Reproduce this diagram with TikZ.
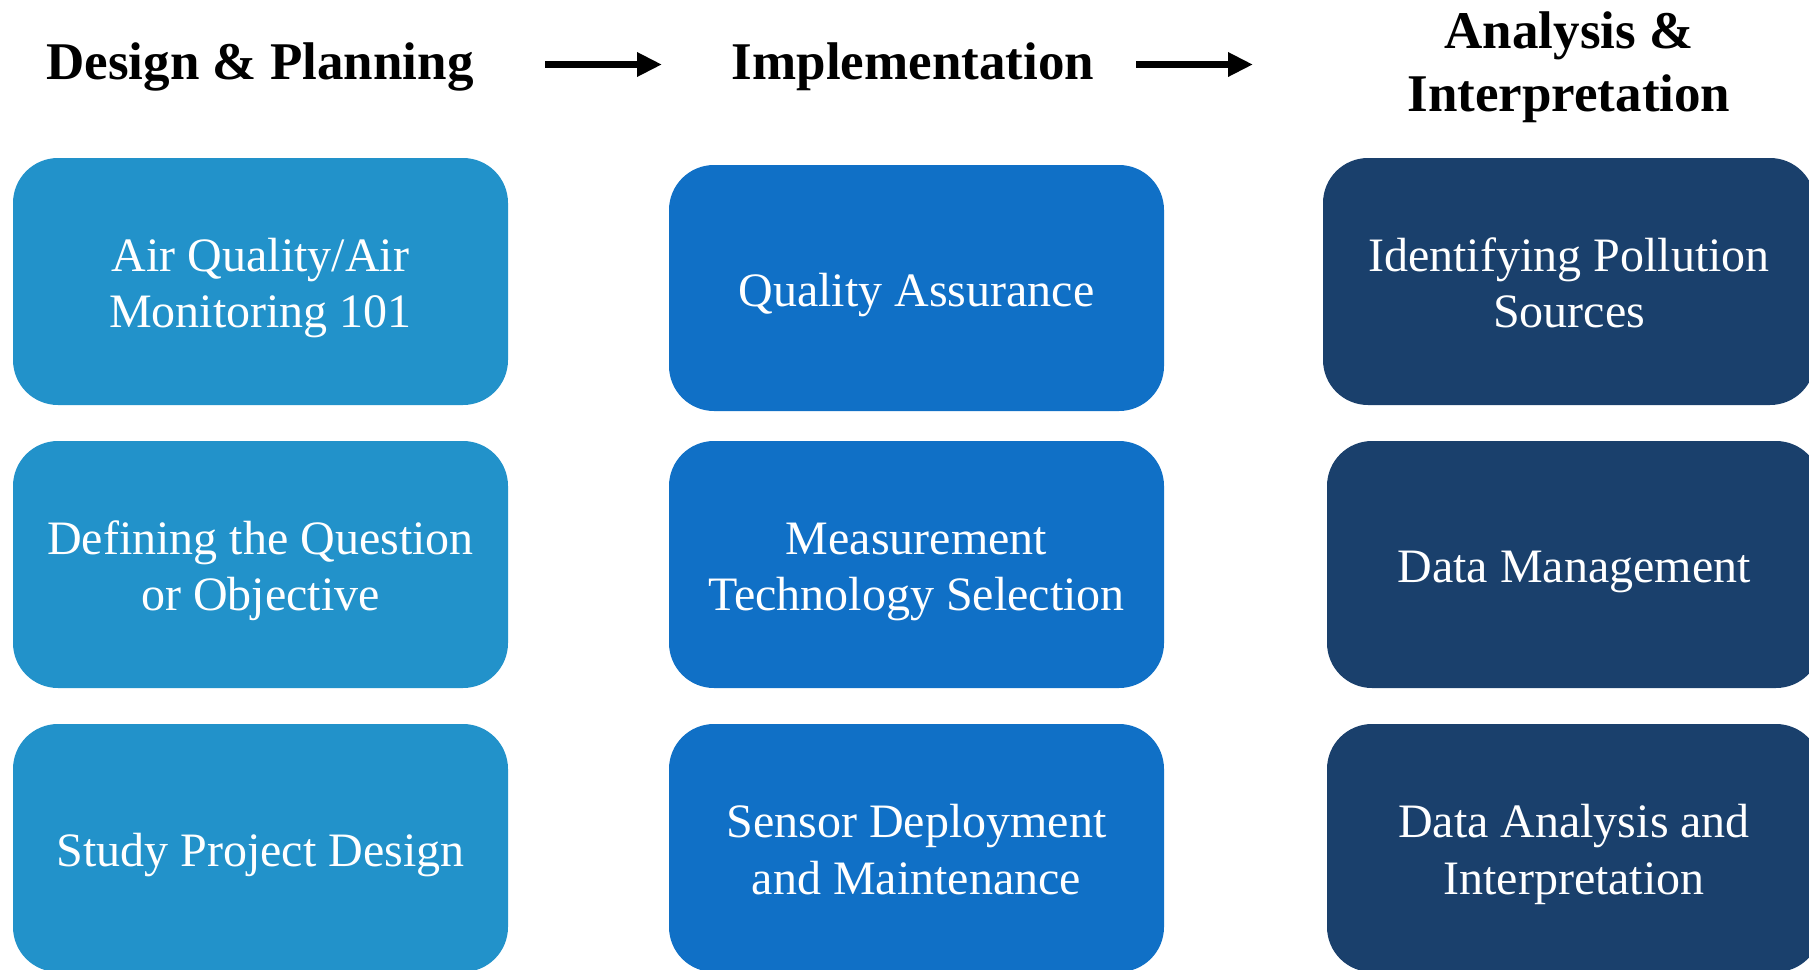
\documentclass[tikz,border=0pt]{standalone}
\usepackage{fontspec}
\setmainfont{Liberation Serif}
\usetikzlibrary{arrows.meta}

\definecolor{planblue}{RGB}{34,146,202}
\definecolor{implblue}{RGB}{16,112,198}
\definecolor{analblue}{RGB}{26,64,108}

% puntales para centrar el texto dentro de las cajas
\newcommand{\boxlift}{\rule{0pt}{47pt}}
\newcommand{\boxsink}{\rule[-11pt]{0pt}{11pt}}

\tikzset{
  stagebox/.style={
    fill=#1,
    draw=none,
    rounded corners=45pt,
    text=white,
    align=center,
    inner sep=0pt,
    font=\fontsize{48}{56.5}\selectfont
  },
  header/.style={
    align=center,
    inner sep=0pt,
    font=\fontsize{53}{63}\selectfont\bfseries
  },
  flow/.style={
    line width=7.5pt,
    -{Triangle[length=25pt,width=23pt]}
  }
}

\begin{document}
\begin{tikzpicture}[
  x=1pt,
  y=-1pt
]
\useasboundingbox (0,0) rectangle (1809,969);

%--------------------
% Encabezados
%--------------------
\node[header] (design) at (260,67) {Design \& Planning};
\node[header] (impl) at (913,67) {Implementation};
\node[header] (anal) at (1569,67) {Analysis \&\\Interpretation};

\coordinate (flowAs) at (545,64.5);
\coordinate (flowAe) at (662,64.5);
\coordinate (flowBs) at (1136,64.5);
\coordinate (flowBe) at (1253,64.5);
\draw[flow] (flowAs) -- (flowAe);
\draw[flow] (flowBs) -- (flowBe);

%--------------------
% Diseño y planificación
%--------------------
\node[stagebox=planblue, minimum width=495pt, minimum height=247pt]
  (plan1) at (260.5,281.5) {\boxlift Air Quality/Air\\Monitoring 101\boxsink};
\node[stagebox=planblue, minimum width=495pt, minimum height=247pt]
  (plan2) at (260.5,564.5) {\boxlift Defining the Question\\or Objective\boxsink};
\node[stagebox=planblue, minimum width=495pt, minimum height=248pt]
  (plan3) at (260.5,848) {\boxlift Study Project Design\boxsink};

%--------------------
% Implementación
%--------------------
\node[stagebox=implblue, minimum width=495pt, minimum height=246pt]
  (impl1) at (916.5,288) {\boxlift Quality Assurance\boxsink};
\node[stagebox=implblue, minimum width=495pt, minimum height=247pt]
  (impl2) at (916.5,564.5) {\boxlift Measurement\\Technology Selection\boxsink};
\node[stagebox=implblue, minimum width=495pt, minimum height=248pt]
  (impl3) at (916.5,848) {\boxlift Sensor Deployment\\and Maintenance\boxsink};

%--------------------
% Análisis e interpretación
%--------------------
\node[stagebox=analblue, minimum width=492pt, minimum height=247pt]
  (anal1) at (1569,281.5) {\boxlift Identifying Pollution\\Sources\boxsink};
\node[stagebox=analblue, minimum width=494pt, minimum height=247pt]
  (anal2) at (1574,564.5) {\boxlift Data Management\boxsink};
\node[stagebox=analblue, minimum width=494pt, minimum height=248pt]
  (anal3) at (1574,848) {\boxlift Data Analysis and\\Interpretation\boxsink};

\end{tikzpicture}
\end{document}
